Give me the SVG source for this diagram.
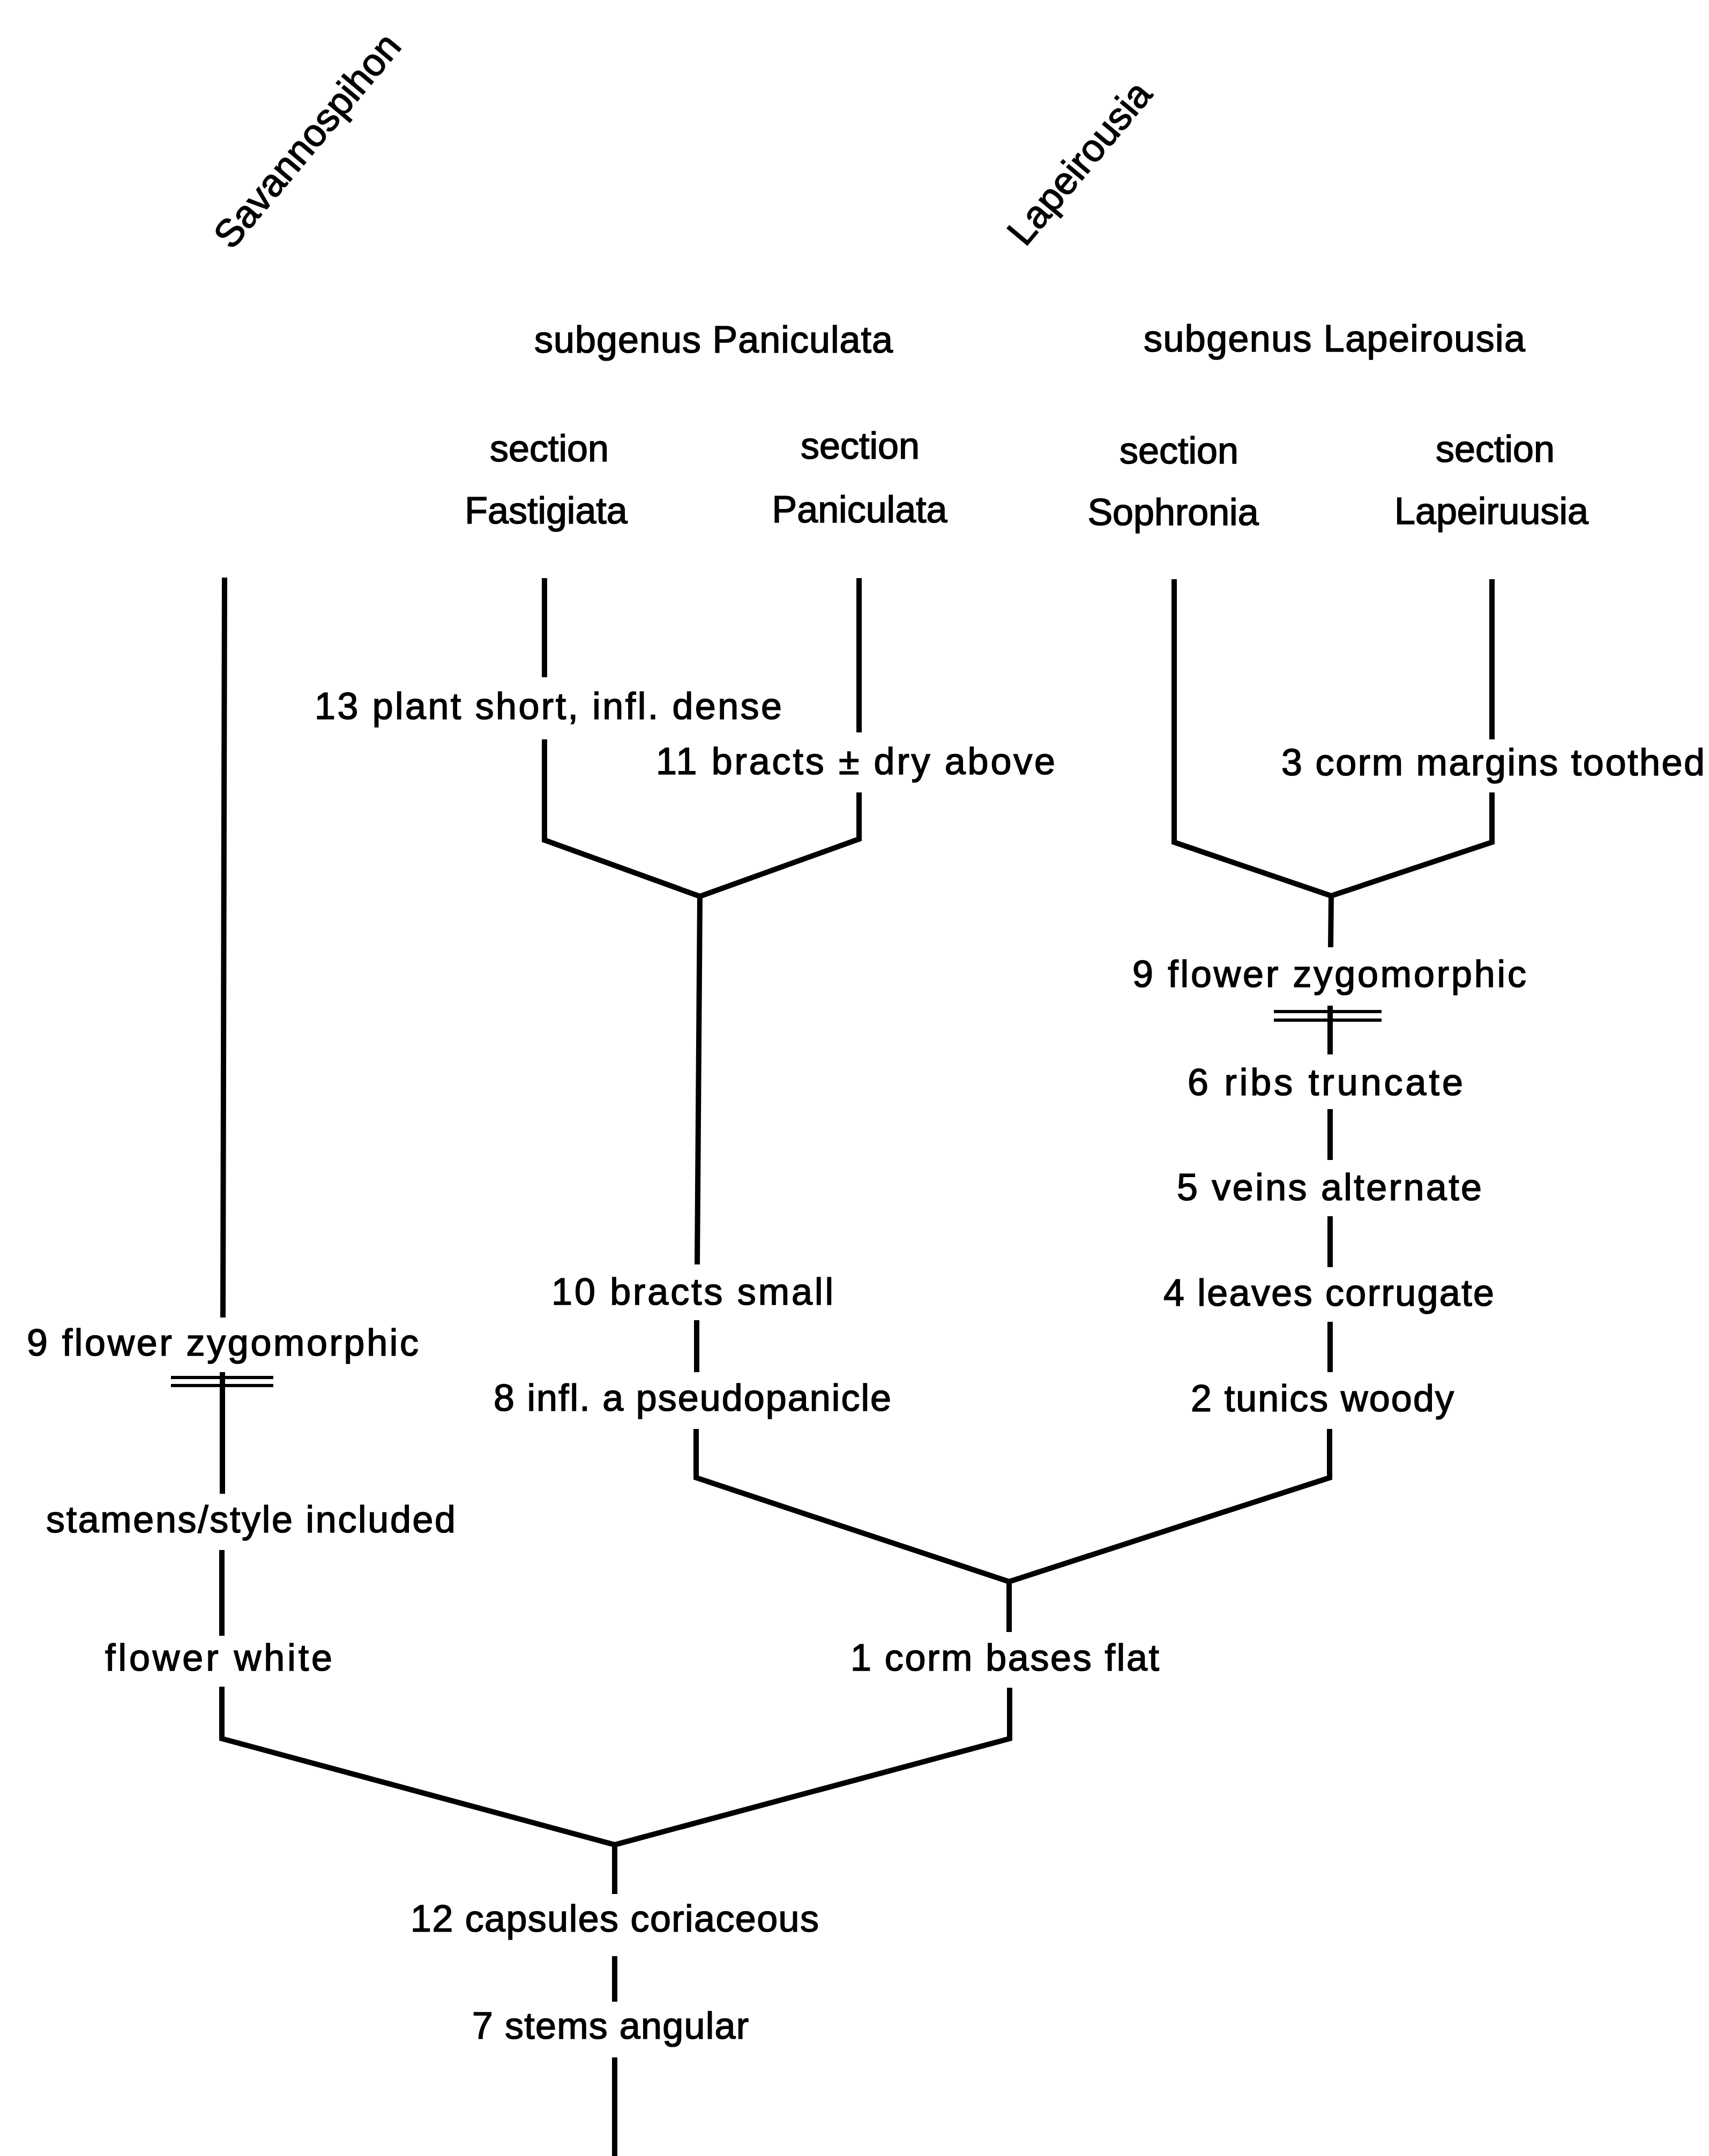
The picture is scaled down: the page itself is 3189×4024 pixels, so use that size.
<svg xmlns="http://www.w3.org/2000/svg" width="3189" height="4024" viewBox="0 0 3189 4024">
<style>
.t{font-family:"Liberation Sans",Arial,Helvetica,sans-serif;font-size:70px;fill:#000;stroke:#000;stroke-width:1.6}
.r{font-family:"Liberation Sans",Arial,Helvetica,sans-serif;font-size:72px;fill:#000;stroke:#000;stroke-width:1.6;text-anchor:middle}
.c{text-anchor:middle}
.ln{fill:none;stroke:#000;stroke-width:10;stroke-linejoin:miter;stroke-linecap:butt}
.bar{fill:none;stroke:#000;stroke-width:6}
</style>
<rect x="0" y="0" width="3189" height="4024" fill="#fff"/>

<g id="connectors">
  <!-- Savannospihon branch -->
  <path class="ln" d="M419 1078 L416 2459"/>
  <path class="ln" d="M415 2561 L415 2788"/>
  <path class="bar" d="M319 2571 H510 M319 2586 H510"/>
  <path class="ln" d="M414 2893 L414 3053"/>
  <path class="ln" d="M414 3148 L414 3245 L1147 3443 L1884 3245 L1884 3150"/>
  <!-- root stem -->
  <path class="ln" d="M1147 3443 L1147 3535"/>
  <path class="ln" d="M1147 3651 L1147 3736"/>
  <path class="ln" d="M1147 3840 L1147 4030"/>
  <!-- corm bases flat stem -->
  <path class="ln" d="M1883 2952 L1883 3046"/>
  <!-- middle fork -->
  <path class="ln" d="M1299 2667 L1299 2758 L1883 2952 L2481 2758 L2481 2667"/>
  <!-- Paniculata stem -->
  <path class="ln" d="M1306 1673 L1301 2360"/>
  <path class="ln" d="M1300 2464 L1300 2561"/>
  <!-- Paniculata fork -->
  <path class="ln" d="M1016 1079 L1016 1264"/>
  <path class="ln" d="M1016 1380 L1016 1568 L1306 1673 L1603 1566 L1603 1479"/>
  <path class="ln" d="M1603 1079 L1603 1367"/>
  <!-- Lapeirousia fork -->
  <path class="ln" d="M2191 1081 L2191 1572 L2484 1672 L2784 1572 L2784 1479"/>
  <path class="ln" d="M2784 1081 L2784 1380"/>
  <!-- Lapeirousia stem -->
  <path class="ln" d="M2484 1672 L2483 1768"/>
  <path class="ln" d="M2482 1877 L2482 1968"/>
  <path class="bar" d="M2377 1888 H2578 M2377 1904 H2578"/>
  <path class="ln" d="M2482 2070 L2482 2165"/>
  <path class="ln" d="M2482 2270 L2482 2365"/>
  <path class="ln" d="M2482 2467 L2482 2561"/>
</g>

<g id="taxon-savannospihon"><text class="r" transform="translate(592 278) rotate(-50)">Savannospihon</text></g>
<g id="taxon-lapeirousia"><text class="r" transform="translate(2033 320) rotate(-50)">Lapeirousia</text></g>

<g id="subgenus-paniculata"><text class="t" x="997" y="658" textLength="669" lengthAdjust="spacing">subgenus Paniculata</text></g>
<g id="subgenus-lapeirousia"><text class="t" x="2134" y="656" textLength="712" lengthAdjust="spacing">subgenus Lapeirousia</text></g>

<g id="section-fastigiata">
  <text class="t c" x="1025" y="861">section</text>
  <text class="t c" x="1019" y="977">Fastigiata</text>
</g>
<g id="section-paniculata">
  <text class="t c" x="1605" y="856">section</text>
  <text class="t c" x="1604" y="975">Paniculata</text>
</g>
<g id="section-sophronia">
  <text class="t c" x="2200" y="865">section</text>
  <text class="t c" x="2189" y="980">Sophronia</text>
</g>
<g id="section-lapeirousia">
  <text class="t c" x="2790" y="862">section</text>
  <text class="t c" x="2783" y="978">Lapeiruusia</text>
</g>

<g id="char-13"><text class="t" x="587" y="1342" textLength="872" lengthAdjust="spacing">13 plant short, infl. dense</text></g>
<g id="char-11"><text class="t" x="1224" y="1445" textLength="745" lengthAdjust="spacing">11 bracts ± dry above</text></g>
<g id="char-3"><text class="t" x="2391" y="1447" textLength="790" lengthAdjust="spacing">3 corm margins toothed</text></g>

<g id="char-9-right"><text class="t" x="2113" y="1842" textLength="735" lengthAdjust="spacing">9 flower zygomorphic</text></g>
<g id="char-6"><text class="t" x="2216" y="2044" textLength="514" lengthAdjust="spacing">6 ribs truncate</text></g>
<g id="char-5"><text class="t" x="2196" y="2240" textLength="569" lengthAdjust="spacing">5 veins alternate</text></g>
<g id="char-4"><text class="t" x="2171" y="2437" textLength="617" lengthAdjust="spacing">4 leaves corrugate</text></g>
<g id="char-2"><text class="t" x="2222" y="2634" textLength="491" lengthAdjust="spacing">2 tunics woody</text></g>

<g id="char-10"><text class="t" x="1029" y="2435" textLength="526" lengthAdjust="spacing">10 bracts small</text></g>
<g id="char-8"><text class="t" x="921" y="2633" textLength="742" lengthAdjust="spacing">8 infl. a pseudopanicle</text></g>
<g id="char-1"><text class="t" x="1587" y="3118" textLength="576" lengthAdjust="spacing">1 corm bases flat</text></g>

<g id="char-9-left"><text class="t" x="50" y="2530" textLength="731" lengthAdjust="spacing">9 flower zygomorphic</text></g>
<g id="char-stamens"><text class="t" x="86" y="2860" textLength="764" lengthAdjust="spacing">stamens/style included</text></g>
<g id="char-white"><text class="t" x="196" y="3118" textLength="424" lengthAdjust="spacing">flower white</text></g>

<g id="char-12"><text class="t" x="766" y="3605" textLength="762" lengthAdjust="spacing">12 capsules coriaceous</text></g>
<g id="char-7"><text class="t" x="881" y="3805" textLength="516" lengthAdjust="spacing">7 stems angular</text></g>
</svg>
